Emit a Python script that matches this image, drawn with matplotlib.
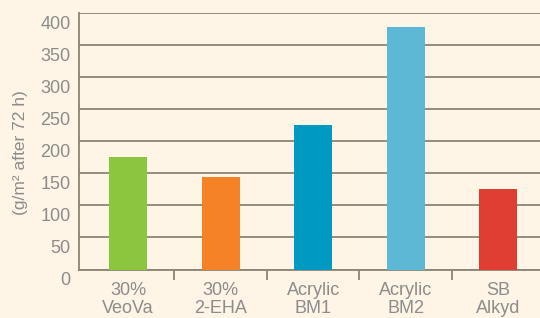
#!/usr/bin/env python3
# Bar chart: coating uptake (g/m2 after 72 h) by binder type

import numpy as np
import matplotlib
matplotlib.use('Agg')
import matplotlib.pyplot as plt
from matplotlib.transforms import ScaledTranslation

# Data
categories = ['30%\nVeoVa', '30%\n2-EHA', 'Acrylic\nBM1', 'Acrylic\nBM2', 'SB\nAlkyd']
values = [175, 144, 225, 378, 125]
colors = ['#8CC63F', '#F58226', '#0099C2', '#5CB8D4', '#E03E33']
yticks = [0, 50, 100, 150, 200, 250, 300, 350, 400]

bg = '#FEF5E7'
linec = '#8A8672'
textc = '#8C8C8C'

plt.rcParams['font.family'] = ['Liberation Sans', 'DejaVu Sans']

fig = plt.figure(figsize=(5.4, 3.18), dpi=100, facecolor=bg)
ax = fig.add_axes([0.146, 0.1525, 0.854, 0.8065])
ax.set_facecolor(bg)

x = np.arange(len(categories))
ax.bar(x, values, width=0.41, color=colors, zorder=3)

ax.set_xlim(-0.53, 4.45)
ax.set_ylim(0, 400)

# gridlines
ax.set_yticks(yticks)
ax.yaxis.grid(True, color=linec, linewidth=1.3, zorder=1)
ax.tick_params(axis='y', length=0, labelsize=13, labelcolor=textc, pad=6)
off = ScaledTranslation(0, -0.09, fig.dpi_scale_trans)
for lab in ax.get_yticklabels():
    lab.set_transform(lab.get_transform() + off)

# x axis
ax.set_xticks(x)
ax.set_xticklabels(categories, linespacing=1.05)
ax.set_xticks(x[:-1] + 0.5, minor=True)
ax.tick_params(axis='x', which='major', length=0, labelsize=13, labelcolor=textc, pad=9)
ax.tick_params(axis='x', which='minor', length=7, width=1.3, color=linec)

for s in ['top', 'right']:
    ax.spines[s].set_visible(False)
for s in ['left', 'bottom']:
    ax.spines[s].set_color(linec)
    ax.spines[s].set_linewidth(1.3)

ax.set_ylabel('(g/m\u00b2 after 72 h)', fontsize=12.5, color=textc)
ax.yaxis.set_label_coords(-0.111, 0.455)

fig.savefig('out.png', dpi=100, facecolor=bg)
